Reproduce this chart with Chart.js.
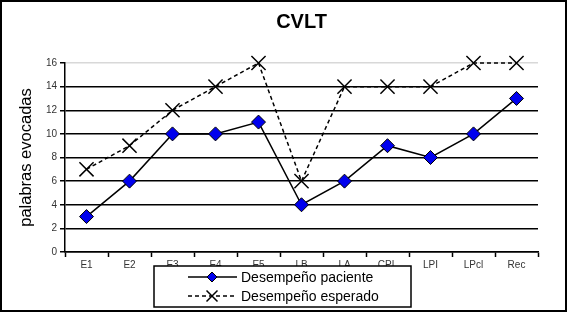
<!DOCTYPE html>
<html><head><meta charset="utf-8">
<script src="https://cdn.jsdelivr.net/npm/chart.js@4.4.0/dist/chart.umd.min.js"></script>
<style>html,body{margin:0;padding:0;background:#fff}canvas{display:block}</style>
</head><body>
<canvas id="c" width="567" height="312"></canvas>
<script>
const categories = ["E1","E2","E3","E4","E5","LB","LA","CPL","LPI","LPcl","Rec"];
const pacienteValues = [3, 6, 10, 10, 11, 4, 6, 9, 8, 10, 13];
const esperadoValues = [7, 9, 12, 14, 16, 6, 14, 14, 14, 16, 16];
const yTicks = [0, 2, 4, 6, 8, 10, 12, 14, 16];
const seriesLabels = ["Desempeño paciente", "Desempeño esperado"];
const FONT = "'Liberation Sans', Arial, sans-serif";

const boxLegend = {
  id: 'boxLegend',
  afterDraw(chart) {
    const ctx = chart.ctx;
    ctx.save();
    const bx = 154, by = 266, bw = 257, bh = 41;
    ctx.fillStyle = '#fff';
    ctx.fillRect(bx, by, bw, bh);
    ctx.strokeStyle = '#000';
    ctx.lineWidth = 1.5;
    ctx.strokeRect(bx, by, bw, bh);
    chart.data.datasets.forEach((ds, i) => {
      const cy = 277 + i * 19;
      ctx.strokeStyle = ds.borderColor;
      ctx.lineWidth = ds.borderWidth;
      ctx.setLineDash(ds.borderDash || []);
      ctx.beginPath(); ctx.moveTo(188, cy); ctx.lineTo(237, cy); ctx.stroke();
      ctx.setLineDash([]);
      ctx.fillStyle = ds.pointBackgroundColor;
      ctx.strokeStyle = ds.pointBorderColor;
      ctx.lineWidth = ds.pointBorderWidth;
      ctx.beginPath();
      if (ds.pointStyle === 'rectRot') {
        const r = 5;
        ctx.moveTo(212, cy - r); ctx.lineTo(212 + r, cy); ctx.lineTo(212, cy + r); ctx.lineTo(212 - r, cy); ctx.closePath();
        ctx.fill(); ctx.stroke();
      } else {
        const r = 5.5;
        ctx.moveTo(212 - r, cy - r); ctx.lineTo(212 + r, cy + r);
        ctx.moveTo(212 + r, cy - r); ctx.lineTo(212 - r, cy + r);
        ctx.stroke();
      }
      ctx.fillStyle = '#000';
      ctx.font = '14px ' + FONT;
      ctx.textBaseline = 'middle';
      ctx.textAlign = 'left';
      ctx.fillText(ds.label, 241, cy + 1);
    });
    ctx.strokeStyle = '#000';
    ctx.lineWidth = 2;
    ctx.strokeRect(1, 1, chart.width - 2, chart.height - 2);
    ctx.restore();
  }
};

new Chart(document.getElementById('c'), {
  type: 'line',
  data: {
    labels: categories,
    datasets: [
      {
        label: seriesLabels[0],
        data: pacienteValues,
        borderColor: '#000',
        borderWidth: 1.5,
        pointStyle: 'rectRot',
        pointRadius: 7,
        pointBackgroundColor: '#0000EE',
        pointBorderColor: '#000',
        pointBorderWidth: 1,
        tension: 0,
        clip: false,
        order: 1
      },
      {
        label: seriesLabels[1],
        data: esperadoValues,
        borderColor: '#000',
        borderWidth: 1.5,
        borderDash: [4, 3],
        pointStyle: 'crossRot',
        pointRadius: 10,
        pointBackgroundColor: '#000',
        pointBorderColor: '#000',
        pointBorderWidth: 1.5,
        tension: 0,
        clip: false,
        order: 2
      }
    ]
  },
  options: {
    responsive: false,
    animation: false,
    events: [],
    layout: { padding: { left: 0, right: 29, top: 0, bottom: 0 } },
    plugins: {
      legend: { display: false },
      tooltip: { enabled: false },
      title: {
        display: true,
        text: 'CVLT',
        fullSize: false,
        color: '#000',
        font: { family: FONT, size: 20, weight: 'bold' },
        padding: { top: 10, bottom: 29 }
      }
    },
    scales: {
      x: {
        offset: true,
        grid: { display: true, drawOnChartArea: false, drawTicks: true, offset: true, tickLength: 5, tickColor: '#000', tickWidth: 1.5 },
        border: { display: true, color: '#000', width: 1.5 },
        ticks: { color: '#333', font: { family: FONT, size: 10 }, padding: 2, maxRotation: 0, autoSkip: false },
        afterFit(s) { s.height = 60; }
      },
      y: {
        min: 0, max: 16,
        afterBuildTicks(s) { s.ticks = yTicks.map(v => ({ value: v })); },
        grid: {
          color: c => c.tick && c.tick.value === 16 ? '#d8d8d8' : '#000',
          lineWidth: 1.5,
          tickColor: '#000',
          tickLength: 5,
          drawTicks: true
        },
        border: { display: true, color: '#000', width: 1.5 },
        ticks: { color: '#333', font: { family: FONT, size: 10 }, padding: 3 },
        title: {
          display: true,
          text: 'palabras evocadas',
          color: '#000',
          font: { family: FONT, size: 16.5 },
          padding: { top: 17, bottom: 0 }
        },
        afterFit(s) { s.width = 65; }
      }
    }
  },
  plugins: [boxLegend]
});
</script>
</body></html>
